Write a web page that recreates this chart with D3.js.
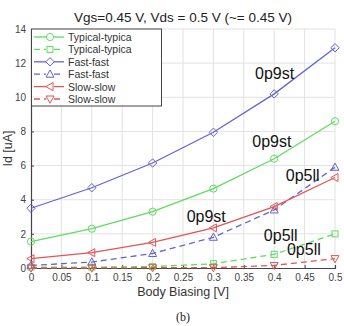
<!DOCTYPE html>
<html>
<head>
<meta charset="utf-8">
<script src="https://cdn.jsdelivr.net/npm/d3@7"></script>
<style>
  body { margin: 0; background: #fff; }
  text { font-family: "Liberation Sans", Arial, sans-serif; }
</style>
</head>
<body>
<div id="chart"></div>
<script>
// data
var bias = [0, 0.1, 0.2, 0.3, 0.4, 0.5];
var ttSolid = [1.55, 2.3, 3.3, 4.65, 6.4, 8.6];
var ttDash = [0.05, 0.05, 0.08, 0.25, 0.8, 2.0];
var ffSolid = [3.5, 4.7, 6.15, 7.95, 10.2, 12.9];
var ffDash = [0.15, 0.35, 0.85, 1.8, 3.4, 5.9];
var ssSolid = [0.55, 0.9, 1.5, 2.35, 3.6, 5.3];
var ssDash = [0.0, 0.0, 0.02, 0.02, 0.15, 0.55];
var seriesNames = ["Typical-typica", "Typical-typica", "Fast-fast", "Fast-fast", "Slow-slow", "Slow-slow"];
var xTicks = [0, 0.05, 0.1, 0.15, 0.2, 0.25, 0.3, 0.35, 0.4, 0.45, 0.5];
var yTicks = [0, 2, 4, 6, 8, 10, 12, 14];
// text labels on the curves: [x value, y value, text]
var notes = [
  [0.3685, 11.1, "0p9st"],
  [0.364, 7.1, "0p9st"],
  [0.419, 5.1, "0p5ll"],
  [0.256, 2.7, "0p9st"],
  [0.383, 1.6, "0p5ll"],
  [0.421, 0.75, "0p5ll"]
];

var series = [
  { vals: ttSolid, color: "#5fdc5f", dash: null, marker: "circle" },
  { vals: ttDash, color: "#5fdc5f", dash: "6,4", marker: "square" },
  { vals: ffSolid, color: "#6464d2", dash: null, marker: "diamond" },
  { vals: ffDash, color: "#6464d2", dash: "6,4", marker: "up" },
  { vals: ssSolid, color: "#e45454", dash: null, marker: "left" },
  { vals: ssDash, color: "#e45454", dash: "6,4", marker: "down" }
];
series.forEach(function (s, i) { s.name = seriesNames[i]; });

var W = 344, H = 326;
var margin = { top: 29, right: 9, bottom: 58, left: 31 };
var width = W - margin.left - margin.right,
    height = H - margin.top - margin.bottom;

var svg = d3.select("#chart").append("svg")
  .attr("width", W)
  .attr("height", H);

var g = svg.append("g")
  .attr("transform", "translate(" + margin.left + "," + margin.top + ")");

var x = d3.scaleLinear().domain([0, 0.5]).range([0, width]);
var y = d3.scaleLinear().domain([0, 14]).range([height, 0]);

// grid
g.append("g").selectAll("line").data(xTicks.slice(1)).enter().append("line")
  .attr("x1", function (d) { return x(d); }).attr("x2", function (d) { return x(d); })
  .attr("y1", 0).attr("y2", height)
  .attr("stroke", "#e2e2e2").attr("stroke-width", 1);
g.append("g").selectAll("line").data(yTicks.slice(1)).enter().append("line")
  .attr("y1", function (d) { return y(d); }).attr("y2", function (d) { return y(d); })
  .attr("x1", 0).attr("x2", width)
  .attr("stroke", "#e2e2e2").attr("stroke-width", 1);

// axes
var xAxis = g.append("g")
  .attr("transform", "translate(0," + height + ")")
  .call(d3.axisBottom(x).tickValues(xTicks).tickSize(-3).tickPadding(6)
    .tickFormat(function (d) { return d3.format("")(d); }));
var yAxis = g.append("g")
  .call(d3.axisLeft(y).tickValues(yTicks).tickSize(-3).tickPadding(5));
[xAxis, yAxis].forEach(function (a) {
  a.select(".domain").attr("stroke", "#444").attr("stroke-width", 1.2);
  a.selectAll(".tick line").attr("stroke", "#444");
  a.selectAll("text").attr("fill", "#444").style("font-size", "10px")
    .style("font-family", "'Liberation Sans', Arial, sans-serif");
});

// lines
var line = d3.line()
  .x(function (d, i) { return x(bias[i]); })
  .y(function (d) { return y(d); });

function marker(sel, type, color) {
  var r = 3.6;
  if (type === "circle") {
    sel.append("circle").attr("r", r).attr("fill", "none").attr("stroke", color);
  } else if (type === "square") {
    sel.append("rect").attr("x", -3).attr("y", -3).attr("width", 6).attr("height", 6)
      .attr("fill", "none").attr("stroke", color);
  } else {
    var pts = {
      diamond: [[0, -4.2], [4.2, 0], [0, 4.2], [-4.2, 0]],
      up: [[0, -4.2], [4, 3], [-4, 3]],
      down: [[0, 4.2], [4, -3], [-4, -3]],
      left: [[-4.2, 0], [3, -4], [3, 4]]
    }[type];
    sel.append("polygon").attr("points", pts.map(function (p) { return p.join(","); }).join(" "))
      .attr("fill", "none").attr("stroke", color);
  }
}

series.forEach(function (s) {
  g.append("path")
    .datum(s.vals)
    .attr("d", line)
    .attr("fill", "none")
    .attr("stroke", s.color)
    .attr("stroke-width", 1.3)
    .attr("stroke-dasharray", s.dash);
  g.append("g").selectAll("g").data(s.vals).enter().append("g")
    .attr("transform", function (d, i) { return "translate(" + x(bias[i]) + "," + y(d) + ")"; })
    .each(function () { marker(d3.select(this), s.marker, s.color); });
});

// curve labels
g.selectAll(".note").data(notes).enter().append("text")
  .attr("class", "note")
  .attr("x", function (d) { return x(d[0]); })
  .attr("y", function (d) { return y(d[1]); })
  .style("font-size", "16px")
  .attr("fill", "#111")
  .text(function (d) { return d[2]; });

// legend
var lg = g.append("g");
lg.append("rect").attr("x", 0.5).attr("y", 0).attr("width", 130).attr("height", 77)
  .attr("fill", "#fff").attr("stroke", "#444").attr("stroke-width", 1);
series.forEach(function (s, i) {
  var yy = 8 + i * 12.4;
  var row = lg.append("g").attr("transform", "translate(0," + yy + ")");
  row.append("line").attr("x1", 3).attr("x2", 33).attr("y1", 0).attr("y2", 0)
    .attr("stroke", s.color).attr("stroke-width", 1.3).attr("stroke-dasharray", s.dash ? "6,4" : null);
  var mk = row.append("g").attr("transform", "translate(19,0)");
  mk.append("rect").attr("x", -4).attr("y", -4).attr("width", 8).attr("height", 8).attr("fill", "#fff");
  marker(mk, s.marker, s.color);
  row.append("text").attr("x", 37).attr("y", 4).style("font-size", "10.5px")
    .attr("fill", "#333").text(s.name);
});

// title and axis labels
svg.append("text").attr("x", 183).attr("y", 22).attr("text-anchor", "middle")
  .style("font-size", "13.5px").attr("fill", "#222")
  .text("Vgs=0.45 V, Vds = 0.5 V (~= 0.45 V)");
svg.append("text").attr("x", 183).attr("y", 296).attr("text-anchor", "middle")
  .style("font-size", "12.5px").attr("fill", "#333")
  .text("Body Biasing [V]");
svg.append("text").attr("transform", "translate(12," + (margin.top + height / 2) + ") rotate(-90)")
  .attr("text-anchor", "middle").style("font-size", "12.5px").attr("fill", "#333")
  .text("Id [uA]");
svg.append("text").attr("x", 183).attr("y", 321).attr("text-anchor", "middle")
  .style("font-family", "'Liberation Serif', 'Times New Roman', serif")
  .style("font-size", "12px").attr("fill", "#222")
  .text("(b)");
</script>
</body>
</html>
